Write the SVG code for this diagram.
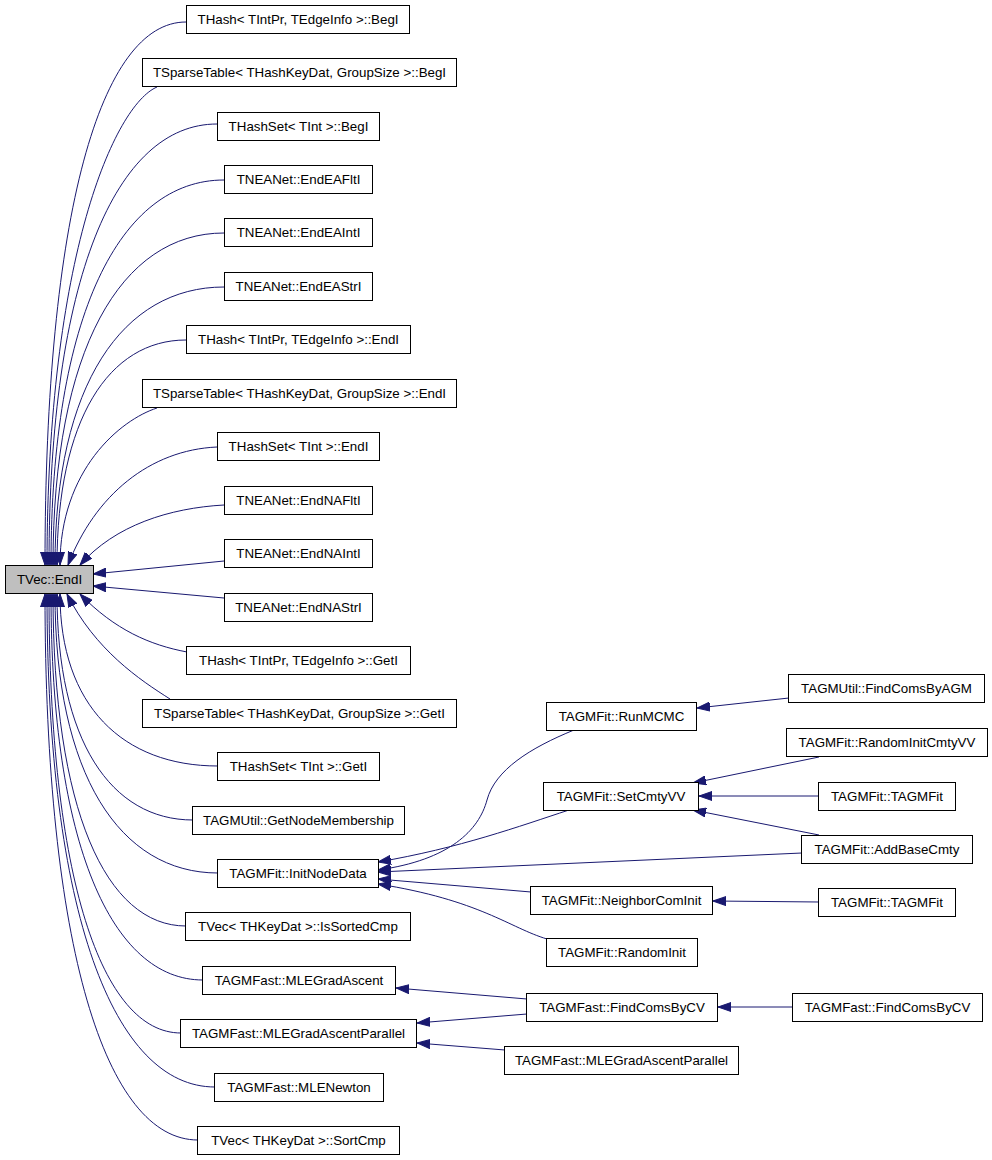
<svg xmlns="http://www.w3.org/2000/svg" width="992" height="1160" viewBox="0 0 992 1160">
<style>
.n rect{fill:#ffffff;stroke:#000000;stroke-width:1}
.n.main rect{fill:#bfbfbf}
.n text{font-family:"Liberation Sans",Arial,sans-serif;font-size:13.33px;fill:#000000;text-anchor:middle}
.e path{fill:none;stroke:#191970;stroke-width:1;marker-end:url(#arr)}
</style>
<defs>
<marker id="arr" markerUnits="userSpaceOnUse" markerWidth="14" markerHeight="10" refX="13" refY="5" orient="auto">
<path d="M0,0.5 L13,5 L0,9.5 Z" fill="#191970" stroke="#191970" stroke-width="1"/>
</marker>
</defs>
<rect width="992" height="1160" fill="#ffffff"/>
<g id="connectors" class="e">
<path d="M186,22 C101,22 45,212 45,565"/>
<path d="M157,87 C115,105 47,255 47,565"/>
<path d="M217,124 C116,124 49,278 49,565"/>
<path d="M224,180 C120,180 51,315 51,565"/>
<path d="M224,233 C121,233 53,349 53,565"/>
<path d="M224,287 C123,287 55,384 55,565"/>
<path d="M186,340 C109,340 57,419 57,565"/>
<path d="M157,408 C120,420 60,470 60,565"/>
<path d="M217,447 C150,450 95,495 68,565"/>
<path d="M224,505 C170,508 115,525 80,565"/>
<path d="M224,561 L93,574"/>
<path d="M224,598 L93,586"/>
<path d="M187,652 C150,645 115,630 80,594"/>
<path d="M170,699 C140,680 95,650 67,594"/>
<path d="M218,766 C123,766 60,706 60,594"/>
<path d="M193,820 C111,820 57,741 57,594"/>
<path d="M218,873 C120,873 55,775 55,594"/>
<path d="M186,926 C106,926 53,810 53,594"/>
<path d="M203,980 C112,980 51,845 51,594"/>
<path d="M181,1033 C102,1033 49,879 49,594"/>
<path d="M215,1087 C114,1087 47,914 47,594"/>
<path d="M198,1140 C106,1140 45,949 45,594"/>
<path d="M574,730 C530,748 495,770 487,800 C479,830 450,860 378,870"/>
<path d="M569,810 C520,826 460,848 378,862"/>
<path d="M802,853 L378,872"/>
<path d="M531,892 L378,879"/>
<path d="M547,939 C510,928 480,900 378,884"/>
<path d="M789,698 L697,708"/>
<path d="M819,757 L693,783"/>
<path d="M819,796 L699,796"/>
<path d="M819,835 L693,810"/>
<path d="M819,902 L713,901"/>
<path d="M792,1007 L718,1007"/>
<path d="M527,999 L396,988"/>
<path d="M527,1014 L417,1023"/>
<path d="M505,1050 L417,1043"/>
</g>
<g id="n_main" class="n main"><rect x="5.5" y="565.5" width="88" height="28"/><text x="49.5" y="584">TVec::EndI</text></g>
<g id="n0" class="n"><rect x="186.5" y="5.5" width="223" height="28"/><text x="298" y="24">THash&lt; TIntPr, TEdgeInfo &gt;::BegI</text></g>
<g id="n1" class="n"><rect x="142.5" y="58.5" width="314" height="28"/><text x="299.5" y="77">TSparseTable&lt; THashKeyDat, GroupSize &gt;::BegI</text></g>
<g id="n2" class="n"><rect x="217.5" y="112.5" width="162" height="28"/><text x="298.5" y="131">THashSet&lt; TInt &gt;::BegI</text></g>
<g id="n3" class="n"><rect x="224.5" y="165.5" width="148" height="28"/><text x="298.5" y="184">TNEANet::EndEAFltI</text></g>
<g id="n4" class="n"><rect x="224.5" y="218.5" width="148" height="28"/><text x="298.5" y="237">TNEANet::EndEAIntI</text></g>
<g id="n5" class="n"><rect x="224.5" y="272.5" width="148" height="28"/><text x="298.5" y="291">TNEANet::EndEAStrI</text></g>
<g id="n6" class="n"><rect x="186.5" y="325.5" width="224" height="28"/><text x="298.5" y="344">THash&lt; TIntPr, TEdgeInfo &gt;::EndI</text></g>
<g id="n7" class="n"><rect x="142.5" y="379.5" width="314" height="28"/><text x="299.5" y="398">TSparseTable&lt; THashKeyDat, GroupSize &gt;::EndI</text></g>
<g id="n8" class="n"><rect x="217.5" y="432.5" width="162" height="28"/><text x="298.5" y="451">THashSet&lt; TInt &gt;::EndI</text></g>
<g id="n9" class="n"><rect x="224.5" y="486.5" width="148" height="28"/><text x="298.5" y="505">TNEANet::EndNAFltI</text></g>
<g id="n10" class="n"><rect x="224.5" y="539.5" width="148" height="28"/><text x="298.5" y="558">TNEANet::EndNAIntI</text></g>
<g id="n11" class="n"><rect x="224.5" y="593.5" width="148" height="28"/><text x="298.5" y="612">TNEANet::EndNAStrI</text></g>
<g id="n12" class="n"><rect x="186.5" y="646.5" width="224" height="28"/><text x="298.5" y="665">THash&lt; TIntPr, TEdgeInfo &gt;::GetI</text></g>
<g id="n13" class="n"><rect x="142.5" y="699.5" width="314" height="28"/><text x="299.5" y="718">TSparseTable&lt; THashKeyDat, GroupSize &gt;::GetI</text></g>
<g id="n14" class="n"><rect x="217.5" y="752.5" width="162" height="28"/><text x="298.5" y="771">THashSet&lt; TInt &gt;::GetI</text></g>
<g id="n15" class="n"><rect x="192.5" y="806.5" width="212" height="28"/><text x="298.5" y="825">TAGMUtil::GetNodeMembership</text></g>
<g id="n16" class="n"><rect x="217.5" y="859.5" width="161" height="28"/><text x="298" y="878">TAGMFit::InitNodeData</text></g>
<g id="n17" class="n"><rect x="185.5" y="912.5" width="225" height="28"/><text x="298" y="931">TVec&lt; THKeyDat &gt;::IsSortedCmp</text></g>
<g id="n18" class="n"><rect x="202.5" y="966.5" width="193" height="28"/><text x="299" y="985">TAGMFast::MLEGradAscent</text></g>
<g id="n19" class="n"><rect x="180.5" y="1019.5" width="236" height="28"/><text x="298.5" y="1038">TAGMFast::MLEGradAscentParallel</text></g>
<g id="n20" class="n"><rect x="214.5" y="1073.5" width="169" height="28"/><text x="299" y="1092">TAGMFast::MLENewton</text></g>
<g id="n21" class="n"><rect x="197.5" y="1126.5" width="202" height="28"/><text x="298.5" y="1145">TVec&lt; THKeyDat &gt;::SortCmp</text></g>
<g id="n_runmcmc" class="n"><rect x="546.5" y="702.5" width="150" height="28"/><text x="621.5" y="721">TAGMFit::RunMCMC</text></g>
<g id="n_setcmty" class="n"><rect x="543.5" y="782.5" width="155" height="28"/><text x="621" y="801">TAGMFit::SetCmtyVV</text></g>
<g id="n_neighbor" class="n"><rect x="530.5" y="886.5" width="182" height="28"/><text x="621.5" y="905">TAGMFit::NeighborComInit</text></g>
<g id="n_randominit" class="n"><rect x="546.5" y="938.5" width="151" height="28"/><text x="622" y="957">TAGMFit::RandomInit</text></g>
<g id="n_findagm" class="n"><rect x="788.5" y="674.5" width="196" height="28"/><text x="886.5" y="693">TAGMUtil::FindComsByAGM</text></g>
<g id="n_randcmty" class="n"><rect x="786.5" y="728.5" width="201" height="28"/><text x="887" y="747">TAGMFit::RandomInitCmtyVV</text></g>
<g id="n_tagmfit1" class="n"><rect x="818.5" y="782.5" width="137" height="28"/><text x="887" y="801">TAGMFit::TAGMFit</text></g>
<g id="n_addbase" class="n"><rect x="801.5" y="835.5" width="171" height="28"/><text x="887" y="854">TAGMFit::AddBaseCmty</text></g>
<g id="n_tagmfit2" class="n"><rect x="818.5" y="888.5" width="137" height="28"/><text x="887" y="907">TAGMFit::TAGMFit</text></g>
<g id="n_findcv1" class="n"><rect x="526.5" y="993.5" width="191" height="28"/><text x="622" y="1012">TAGMFast::FindComsByCV</text></g>
<g id="n_findcv2" class="n"><rect x="792.5" y="993.5" width="190" height="28"/><text x="887.5" y="1012">TAGMFast::FindComsByCV</text></g>
<g id="n_mlegap2" class="n"><rect x="504.5" y="1046.5" width="234" height="28"/><text x="621.5" y="1065">TAGMFast::MLEGradAscentParallel</text></g>
</svg>
